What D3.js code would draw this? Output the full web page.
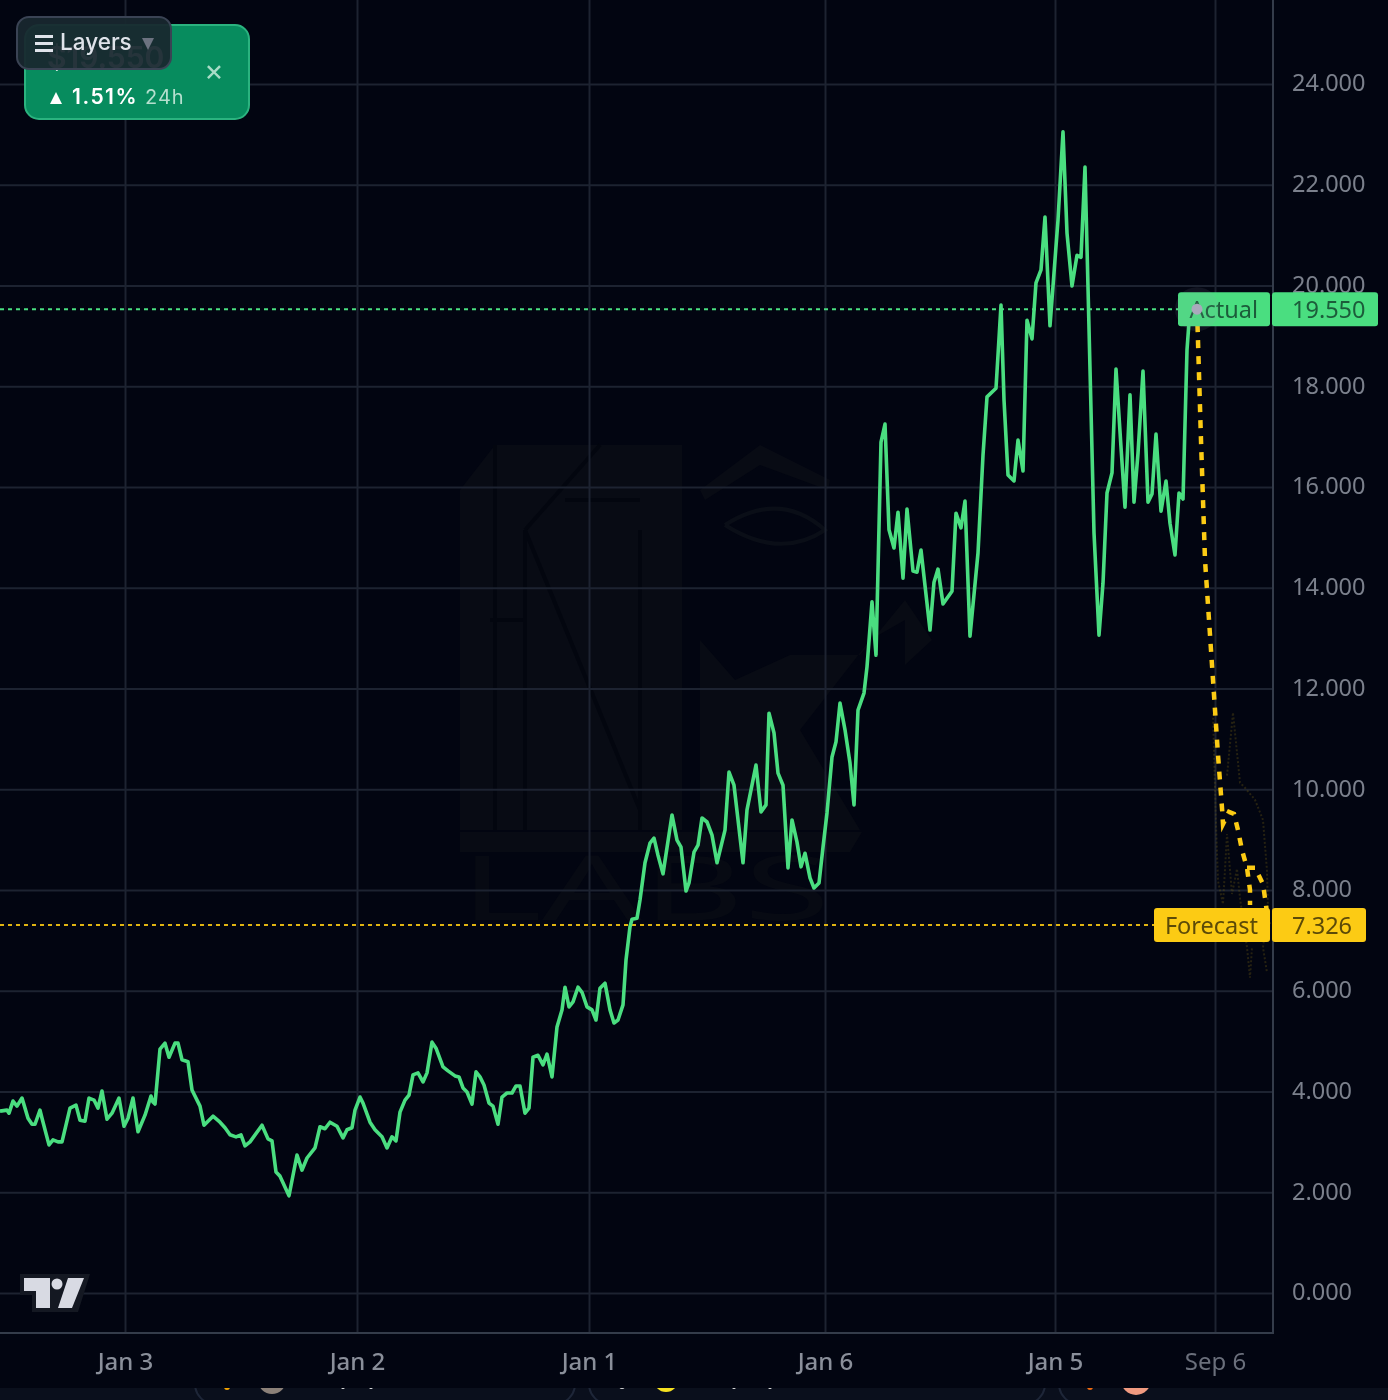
<!DOCTYPE html>
<html>
<head>
<meta charset="utf-8">
<style>
  html, body { margin: 0; padding: 0; background: #020511; }
  svg { display: block; }
  .axis text { font-family: "Noto Sans", sans-serif; font-size: 23.5px; fill: #7b808c; }
  .axis path { display: none; }
  .axis line { stroke: #1d2331; stroke-width: 2; }
</style>
<script src="https://cdn.jsdelivr.net/npm/d3@7"></script>
</head>
<body>
<div id="chart"></div>
<script>
// x values are bar numbers counted from the left edge, y values are the price
var actualSeries = [
  [0,3.61],[1.75,3.63],[2.25,3.57],[3.25,3.81],[4.25,3.71],[5.5,3.87],[6.25,3.67],[7,3.47],[8,3.35],[8.75,3.35],
  [10,3.63],[10.5,3.47],[12.25,2.94],[13.25,3.04],[14.5,3.00],[15.5,3.00],[17.5,3.67],[19,3.73],[20,3.43],[21.25,3.41],
  [22.25,3.87],[23.5,3.83],[24.5,3.67],[25.5,4.01],[26.75,3.45],[28,3.57],[29.75,3.87],[31,3.31],[32,3.47],[33.25,3.87],
  [34.5,3.20],[36.25,3.53],[37.75,3.91],[38.25,3.79],[38.75,3.75],[40,4.84],[41.25,4.96],[42.25,4.68],[43.75,4.96],[44.5,4.96],
  [45.5,4.63],[47,4.59],[48,4.03],[49.5,3.79],[50,3.71],[51,3.33],[53.25,3.51],[55,3.39],[56.25,3.28],[57.5,3.14],
  [59,3.10],[60.25,3.14],[61.25,2.92],[62.5,3.00],[65.5,3.33],[67,3.06],[68,3.02],[69,2.40],[70,2.32],[72.25,1.93],
  [74.25,2.74],[75.5,2.44],[76.75,2.68],[78.75,2.88],[80,3.30],[81.25,3.26],[82.5,3.39],[84.25,3.31],[85.75,3.08],[86.75,3.24],
  [88,3.28],[88.75,3.63],[90,3.89],[90.75,3.77],[92.5,3.39],[93.75,3.24],[95.5,3.10],[96.75,2.88],[98,3.10],[99,3.02],
  [100,3.59],[101.25,3.83],[102.25,3.93],[103.25,4.33],[104.5,4.37],[105.75,4.19],[106.75,4.37],[108,4.98],[109,4.86],[110.75,4.49],
  [112,4.41],[113.75,4.31],[114.75,4.29],[115.75,4.07],[116.75,3.99],[118,3.75],[119,4.39],[120,4.29],[121,4.13],[122.25,3.77],
  [123.25,3.71],[124.5,3.35],[125.5,3.89],[126.75,3.97],[128,3.97],[129,4.11],[130,4.11],[131.25,3.57],[132.25,3.67],[133.25,4.68],
  [134.5,4.72],[135.75,4.53],[136.75,4.74],[138,4.29],[139.25,5.28],[140.5,5.62],[141.25,6.07],[142.25,5.68],[143.25,5.78],[144.5,6.07],
  [145.5,5.97],[146.75,5.68],[148,5.62],[149,5.42],[150,6.05],[151.25,6.15],[152.5,5.62],[153.5,5.36],[154.5,5.42],[155.75,5.72],
  [156.5,6.61],[157.5,7.27],[158,7.42],[159.25,7.44],[160,7.80],[161.25,8.54],[162.5,8.93],[163.5,9.03],[164.5,8.69],[165.75,8.32],
  [168,9.49],[169.25,8.99],[170.25,8.85],[171.5,7.98],[172.25,8.14],[173.5,8.75],[174.5,8.89],[175.5,9.43],[176.75,9.35],[178,9.09],
  [179.25,8.54],[181.25,9.19],[182.25,10.34],[183.5,10.08],[185.75,8.54],[186.75,9.59],[189,10.48],[190.25,9.55],[191.5,9.69],[192.25,11.51],
  [193.5,11.12],[194.5,10.32],[195.75,10.08],[197,8.44],[198,9.39],[199.25,8.95],[200.25,8.46],[201.25,8.73],[202.5,8.24],[203.5,8.04],
  [204.75,8.14],[205.75,8.85],[206.75,9.53],[208,10.64],[209,10.94],[210,11.71],[211.25,11.18],[212.5,10.52],[213.5,9.69],[214.5,11.57],
  [216,11.91],[216.75,12.43],[218,13.72],[219,12.66],[220.25,16.89],[221.25,17.25],[222.25,15.15],[223.5,14.79],[224.5,15.50],[225.75,14.19],
  [226.75,15.56],[228.25,14.33],[229.25,14.31],[230.25,14.75],[232.5,13.16],[233.5,14.11],[234.5,14.37],[235.75,13.68],[238,13.93],[239,15.48],
  [240.25,15.19],[241.25,15.72],[242.5,13.04],[244.5,14.69],[245.75,16.63],[246.75,17.79],[249,17.96],[250.25,19.61],[251,17.73],[252,16.24],
  [253.5,16.12],[254.5,16.93],[255.75,16.32],[256.75,19.31],[258,18.94],[259,20.05],[260.25,20.31],[261.25,21.36],[262.5,19.20],[264.5,21.30],
  [265.75,23.05],[266.75,21.04],[268,19.99],[269.25,20.60],[270.25,20.56],[271.25,22.35],[272,19.97],[273.5,15.09],[274.75,13.06],[275.75,14.09],
  [276.75,15.88],[278,16.28],[279,18.34],[280.25,16.79],[281.25,15.60],[282.5,17.83],[283.5,15.70],[284.5,16.67],[285.75,18.30],[287,15.70],
  [288,15.86],[289,17.05],[290.25,15.52],[291.5,16.12],[292.5,15.28],[293.75,14.65],[294.75,15.88],[295.75,15.76],[296.75,18.72],[297.5,19.55]
];
var forecastMain = [
  [299.25,19.55],[300.25,16.93],[301.25,14.55],[303.25,12.17],[304.5,10.68],[305.5,9.63],[305.75,9.31],[307.25,9.55],
  [308.5,9.51],[309.5,9.19],[310.5,8.79],[311.75,8.44],[312.5,8.00],[312.5,7.70]
];
var forecastBranch = [[311.75,8.44],[313.75,8.44],[315.75,8.12],[316.5,7.70],[317,7.326]];
var forecastFaintA = [[306.75,10.27],[308.25,11.52],[310,10.13],[311.25,10.03],[313.75,9.79],[315.75,9.39],[316.75,8.38],[317,7.6],[315.75,6.86],[316.75,6.36]];
var forecastFaintB = [[303.25,11.50],[304,9.31],[304.5,8.18],[305.75,7.72],[306.75,9.11],[308,7.92],[309.25,8.42],[310,7.84],[311.75,6.86],[312.5,6.26],[313,6.86]];

var yTicks = [0, 2, 4, 6, 8, 10, 12, 14, 16, 18, 20, 22, 24];
var xTickBars = [31.25, 89.25, 147.25, 206.25, 263.75, 303.75];
var xTickLabels = ["Jan 3", "Jan 2", "Jan 1", "Jan 6", "Jan 5", "Sep 6"];
var actualLast = 19.55;
var forecastLast = 7.326;

var width = 1388, height = 1400,
    plotRight = 1273, plotBottom = 1333;

var green = "#4ade80", yellow = "#fccb14";

var svg = d3.select("#chart").append("svg")
  .attr("width", width)
  .attr("height", height)
  .style("background", "#020511");

var root = svg.append("g").style("filter", "blur(0.55px)");

var x = d3.scaleLinear().domain([0, 318.25]).range([0, plotRight]);
var y = d3.scaleLinear().domain([0, 24]).range([1293, 84]);
var fmt = d3.format(".3f");

// watermark behind the grid
var wm = root.append("g").attr("fill", "#080b14");
wm.append("path").attr("d", "M460,490L495,445H682V830H460Z");
wm.append("path").attr("d", "M700,640L735,680L790,655H860L905,600L932,640L905,665L905,620L870,640L800,730L860,830H700Z");
wm.append("path").attr("d", "M700,490L760,445L830,480L828,490L760,465L705,500Z");
wm.append("path").attr("d", "M460,832H862L850,852H460Z");
wm.append("text")
  .attr("x", 460).attr("y", 920)
  .attr("textLength", 370)
  .attr("lengthAdjust", "spacingAndGlyphs")
  .style("font-family", "'Noto Sans', sans-serif")
  .style("font-size", "90px")
  .attr("fill", "#070a13")
  .text("LABS");
var wmCuts = root.append("g").attr("fill", "none").attr("stroke", "#03060f").attr("stroke-width", 4);
wmCuts.append("path").attr("d", "M495,445V830M525,830V530M525,530L640,810M640,530V830M525,530L600,445M565,500H640");
wmCuts.append("path").attr("d", "M490,620H525");
wmCuts.append("path").attr("d", "M725,525Q780,490 825,530Q780,560 725,525").attr("stroke", "#0a0e17");

// axes draw the grid too, with their long ticks
root.append("g")
  .attr("class", "axis")
  .attr("transform", "translate(" + plotRight + ",0)")
  .call(d3.axisRight(y).tickValues(yTicks).tickSize(-plotRight).tickPadding(19).tickFormat(fmt))
  .selectAll("text")
  .attr("dy", "0.29em");

root.append("g")
  .attr("class", "axis")
  .attr("transform", "translate(0," + plotBottom + ")")
  .call(d3.axisBottom(x).tickValues(xTickBars).tickSize(-plotBottom).tickPadding(20)
    .tickFormat(function (d, i) { return xTickLabels[i]; }))
  .selectAll("text")
  .style("font-size", "24px")
  .style("fill", function (d, i) { return i == 5 ? "#6a6f7b" : "#8a8f9a"; })
  .style("font-weight", function (d, i) { return i == 5 ? 400 : 500; });

root.append("path")
  .attr("d", "M" + plotRight + ",0V" + plotBottom + "H0")
  .attr("fill", "none")
  .attr("stroke", "#343c4a")
  .attr("stroke-width", 2);

// last value lines
root.append("line")
  .attr("x1", 0).attr("x2", 1180)
  .attr("y1", y(actualLast) + 1).attr("y2", y(actualLast) + 1)
  .attr("stroke", green).attr("stroke-width", 2).attr("stroke-dasharray", "4 4");
root.append("line")
  .attr("x1", 0).attr("x2", 1156)
  .attr("y1", y(forecastLast) + 1).attr("y2", y(forecastLast) + 1)
  .attr("stroke", "#e0b412").attr("stroke-width", 2).attr("stroke-dasharray", "4 4");

var line = d3.line()
  .x(function (d) { return x(d[0]); })
  .y(function (d) { return y(d[1]); });

[forecastFaintA, forecastFaintB].forEach(function (s) {
  root.append("path").datum(s)
    .attr("d", line)
    .attr("fill", "none")
    .attr("stroke", "#6b5a14")
    .attr("stroke-opacity", 0.35)
    .attr("stroke-width", 2)
    .attr("stroke-dasharray", "2 2");
});

root.append("path").datum(actualSeries)
  .attr("d", line)
  .attr("fill", "none")
  .attr("stroke", green)
  .attr("stroke-width", 3.6)
  .attr("stroke-linejoin", "round");

[forecastMain, forecastBranch].forEach(function (s) {
  root.append("path").datum(s)
    .attr("d", line)
    .attr("fill", "none")
    .attr("stroke", yellow)
    .attr("stroke-width", 4.5)
    .attr("stroke-dasharray", "8 8");
});

// price labels
function priceLabel(name, value, fill, textFill, xName, xEnd) {
  var cy = y(value) + 1, top = cy - 17;
  root.append("rect").attr("x", xName).attr("y", top).attr("width", 1270 - xName).attr("height", 34).attr("rx", 3).attr("fill", fill);
  root.append("rect").attr("x", 1272).attr("y", top).attr("width", xEnd - 1272).attr("height", 34).attr("rx", 3).attr("fill", fill);
  root.append("text").attr("x", 1258).attr("y", cy).attr("dy", "0.37em").attr("text-anchor", "end")
    .style("font-family", "'Noto Sans', sans-serif").style("font-size", "23.5px").attr("fill", textFill).text(name);
  root.append("text").attr("x", 1292).attr("y", cy).attr("dy", "0.37em")
    .style("font-family", "'Noto Sans', sans-serif").style("font-size", "23.5px").attr("fill", textFill).text(fmt(value));
}
priceLabel("Actual", actualLast, green, "#1c5c3a", 1178, 1378);
priceLabel("Forecast", forecastLast, yellow, "#5c4a08", 1154, 1366);

root.append("circle").attr("cx", x(299.25)).attr("cy", y(actualLast) + 1).attr("r", 22).attr("fill", "#9a9ab0").attr("fill-opacity", 0.1);
root.append("circle").attr("cx", x(299.25)).attr("cy", y(actualLast) + 1).attr("r", 5.5).attr("fill", "#a9a9bb");

// tradingview mark
root.append("path").attr("d", "M20,1274H90L78,1312H32V1295H20Z").attr("fill", "#141822");
root.append("path").attr("d", "M24,1278H50V1308H36V1291H24Z").attr("fill", "#d8dae3");
root.append("circle").attr("cx", 57).attr("cy", 1284).attr("r", 5.5).attr("fill", "#d8dae3");
root.append("path").attr("d", "M68,1278H84L72,1308H58Z").attr("fill", "#d8dae3");

// ticker card, layers button on top of it
var font = "Inter, 'Noto Sans', sans-serif";
root.append("rect").attr("x", 25).attr("y", 25).attr("width", 224).attr("height", 94).attr("rx", 14)
  .attr("fill", "#078c5e").attr("stroke", "#2bb37f").attr("stroke-width", 2);
root.append("text").attr("x", 47).attr("y", 68)
  .style("font-family", font).style("font-size", "30px").style("font-weight", 600)
  .attr("fill", "#ffffff").text("$19.550");
root.append("path").attr("d", "M50,104H62L56,92Z").attr("fill", "#ffffff");
root.append("text").attr("x", 72).attr("y", 104)
  .style("font-family", font).style("font-size", "21px").style("font-weight", 600).style("letter-spacing", "1.5px")
  .attr("fill", "#ffffff").text("1.51%");
root.append("text").attr("x", 145).attr("y", 104)
  .style("font-family", font).style("font-size", "20px").style("letter-spacing", "1px")
  .attr("fill", "#b5dfce").text("24h");
root.append("text").attr("x", 214).attr("y", 81).attr("text-anchor", "middle")
  .style("font-family", font).style("font-size", "30px")
  .attr("fill", "#a8dcc7").text("×");

root.append("rect").attr("x", 17).attr("y", 17).attr("width", 154).attr("height", 52).attr("rx", 12)
  .attr("fill", "#18272f").attr("fill-opacity", 0.94).attr("stroke", "#3a4354").attr("stroke-width", 2);
[35, 42, 49].forEach(function (ty) {
  root.append("rect").attr("x", 35).attr("y", ty).attr("width", 18).attr("height", 3).attr("fill", "#dfe3ea");
});
root.append("text").attr("x", 60).attr("y", 50)
  .style("font-family", font).style("font-size", "22.5px").style("font-weight", 500)
  .attr("fill", "#dfe3ea").text("Layers");
root.append("path").attr("d", "M142,38H154L148,50Z").attr("fill", "#6c7280");

// page below the chart, only the top of it shows
root.append("rect").attr("x", 0).attr("y", 1388).attr("width", width).attr("height", 12).attr("fill", "#0a0f1c");
svg.append("clipPath").attr("id", "below").append("rect").attr("x", 0).attr("y", 1388).attr("width", width).attr("height", 12);
var below = root.append("g").attr("clip-path", "url(#below)");
[[195, 380], [589, 456], [1059, 400]].forEach(function (c) {
  below.append("rect").attr("x", c[0]).attr("y", 1360).attr("width", c[1]).attr("height", 44).attr("rx", 20)
    .attr("fill", "none").attr("stroke", "#1e2638").attr("stroke-width", 2);
});
[[227, 1387, 3, "#f7a600"], [272, 1380, 14, "#8b8078"], [343, 1387, 2, "#e8e8e8"], [371, 1387, 2, "#e8e8e8"],
 [622, 1386, 3, "#d8d8d8"], [666, 1380, 12, "#f5e020"], [734, 1387, 2, "#e8e8e8"], [770, 1387, 2, "#e8e8e8"],
 [1090, 1387, 3, "#f06a10"], [1136, 1380, 15, "#f09a80"]].forEach(function (c) {
  below.append("circle").attr("cx", c[0]).attr("cy", c[1]).attr("r", c[2]).attr("fill", c[3]);
});
</script>
</body>
</html>
